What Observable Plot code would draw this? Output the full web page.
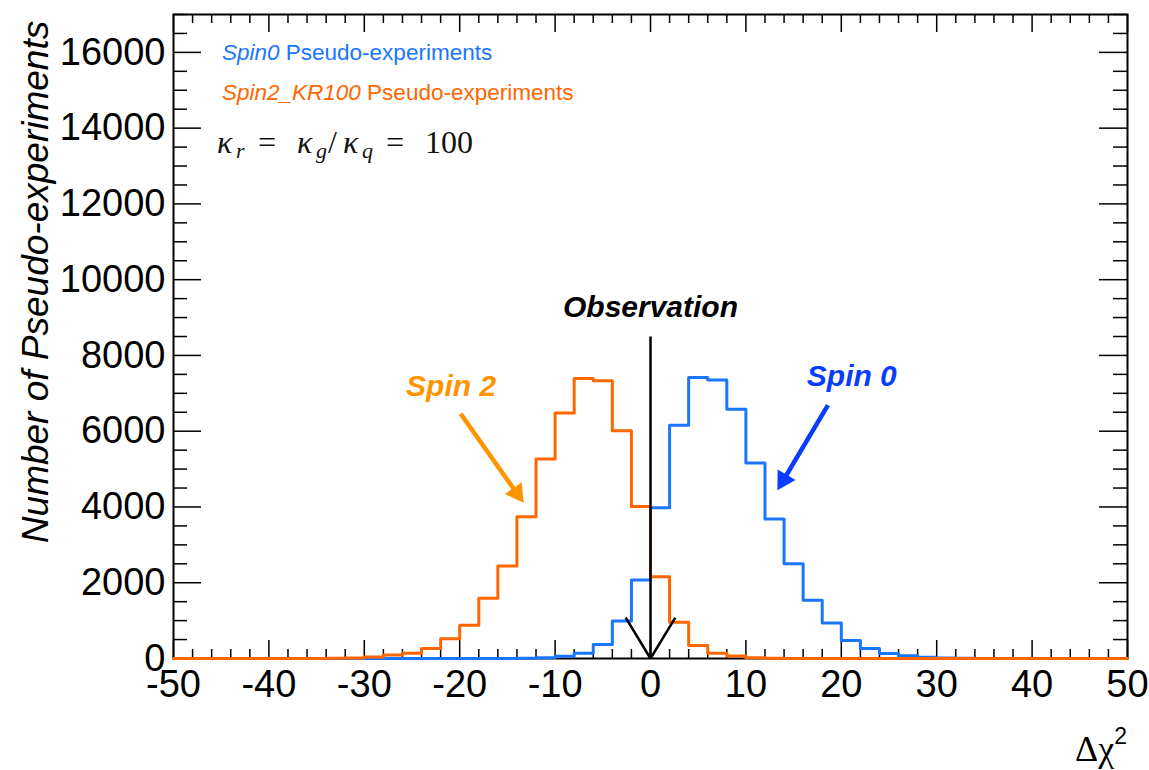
<!DOCTYPE html>
<html>
<head>
<meta charset="utf-8">
<script src="https://cdn.jsdelivr.net/npm/d3@7"></script>
<script src="https://cdn.jsdelivr.net/npm/@observablehq/plot@0.6"></script>
<style>
  html, body { margin: 0; padding: 0; background: #fff; }
  #chart svg { display: block; }
</style>
</head>
<body>
<div id="chart"></div>
<script>
// Δχ² histograms of pseudo-experiments, 2-unit bins from -50 to 50 (left edges)
const binLeftEdges = d3.range(-50, 50, 2);

// Spin 0 pseudo-experiment counts per bin
const spin0Counts = [
  0, 0, 0, 0, 0, 0, 0, 0, 0, 0,          // -50 .. -32
  0, 0, 0, 0, 0, 0, 0, 2, 6, 20,         // -30 .. -12
  60, 140, 370, 990, 2070, 3980, 6160, 7420, 7350, 6580, // -10 .. 8
  5160, 3680, 2500, 1540, 940, 475, 265, 130, 70, 30,    // 10 .. 28
  14, 6, 2, 0, 0, 0, 0, 0, 0, 0          // 30 .. 48
];

// Spin 2 (κr = 100) pseudo-experiment counts per bin
const spin2Counts = [
  0, 0, 0, 0, 0, 0, 0, 2, 6, 15,         // -50 .. -32
  40, 90, 140, 265, 520, 875, 1590, 2440, 3745, 5265,    // -30 .. -12
  6480, 7390, 7335, 6010, 4010, 2160, 960, 345, 140, 65, // -10 .. 8
  20, 6, 2, 0, 0, 0, 0, 0, 0, 0,         // 10 .. 28
  0, 0, 0, 0, 0, 0, 0, 0, 0, 0           // 30 .. 48
];

// Axis ticks
const xMajor = [-50, -40, -30, -20, -10, 0, 10, 20, 30, 40, 50];
const xMinor = d3.range(-50, 51, 2).filter(v => v % 10 !== 0);
const yMajor = [0, 2000, 4000, 6000, 8000, 10000, 12000, 14000, 16000];
const yMinor = d3.range(0, 17001, 500).filter(v => v % 2000 !== 0);

// Legend entries and annotations
const legendNames = ["Spin0", "Spin2_KR100"];
const legendSuffix = " Pseudo-experiments";
const observationX = 0;
const observationTop = 8500;
const observationLabel = "Observation";
const observationLabelY = 9260;
const observationWing = {dx: 2.6, dy: 1080};
const spinLabels = [
  {label: "Spin 2", x: -20.9, y: 7190, color: "#ff9400"},
  {label: "Spin 0", x: 21.1, y: 7450, color: "#0a3cff"}
];
const spinArrows = [
  {x1: -19.9, y1: 6460, x2: -13.3, y2: 4110, color: "#ff9400"},
  {x1: 18.6, y1: 6690, x2: 13.3, y2: 4440, color: "#0a3cff"}
];

const colorSpin0 = "#1a75ff";
const colorSpin2 = "#ff6600";

// Layout
const W = 1149, H = 770;
const mL = 173, mR = 22, mT = 14, mB = 112;
const plotW = W - mL - mR, plotH = H - mT - mB;
const kx = plotW / 100, ky = plotH / 17000;

// Step outline of a histogram: one point per left edge plus the closing edge
function stepPoints(counts) {
  const pts = binLeftEdges.map((e, i) => ({x: e, y: counts[i]}));
  pts.push({x: 50, y: counts[counts.length - 1]});
  return pts;
}

// Filled arrowheads: triangle centred back from the tip, rotated along the shaft
const headBack = 12;
const arrows = spinArrows.map(a => {
  const dxp = (a.x2 - a.x1) * kx, dyp = -(a.y2 - a.y1) * ky;
  const len = Math.hypot(dxp, dyp);
  const ux = dxp / len, uy = dyp / len;
  return {
    ...a,
    hx: a.x2 - headBack * ux / kx,
    hy: a.y2 + headBack * uy / ky,
    angle: Math.atan2(ux, -uy) * 180 / Math.PI
  };
});

const obsLines = [
  {x1: observationX, y1: observationTop, x2: observationX, y2: 0},
  {x1: observationX - observationWing.dx, y1: observationWing.dy, x2: observationX, y2: 0},
  {x1: observationX + observationWing.dx, y1: observationWing.dy, x2: observationX, y2: 0}
];

const tickStyle = {stroke: "black", strokeWidth: 1.5};

const plot = Plot.plot({
  width: W,
  height: H,
  marginLeft: mL,
  marginRight: mR,
  marginTop: mT,
  marginBottom: mB,
  style: {fontFamily: "Liberation Sans", background: "white", overflow: "visible"},
  x: {domain: [-50, 50]},
  y: {domain: [0, 17000]},
  marks: [
    Plot.frame({stroke: "black", strokeWidth: 2}),
    // inward ticks on all four sides
    Plot.tickX(xMinor, {x: d => d, insetTop: plotH - 9, ...tickStyle}),
    Plot.tickX(xMajor, {x: d => d, insetTop: plotH - 18, ...tickStyle}),
    Plot.tickX(xMinor, {x: d => d, insetBottom: plotH - 9, ...tickStyle}),
    Plot.tickX(xMajor, {x: d => d, insetBottom: plotH - 18, ...tickStyle}),
    Plot.tickY(yMinor, {y: d => d, insetRight: plotW - 14, ...tickStyle}),
    Plot.tickY(yMajor, {y: d => d, insetRight: plotW - 28, ...tickStyle}),
    Plot.tickY(yMinor, {y: d => d, insetLeft: plotW - 14, ...tickStyle}),
    Plot.tickY(yMajor, {y: d => d, insetLeft: plotW - 28, ...tickStyle}),
    Plot.axisX({ticks: xMajor, tickSize: 0, tickPadding: 12, fontSize: 38, label: null, tickFormat: d => String(d)}),
    Plot.axisY({ticks: yMajor, tickSize: 0, tickPadding: 8, fontSize: 38, label: null, tickFormat: d => String(d)}),
    // histograms
    Plot.line(stepPoints(spin0Counts), {x: "x", y: "y", curve: "step-after", stroke: colorSpin0, strokeWidth: 3}),
    Plot.line(stepPoints(spin2Counts), {x: "x", y: "y", curve: "step-after", stroke: colorSpin2, strokeWidth: 3}),
    // observed value
    Plot.link(obsLines, {x1: "x1", y1: "y1", x2: "x2", y2: "y2", stroke: "black", strokeWidth: 2.5}),
    Plot.text([{x: observationX, y: observationLabelY, label: observationLabel}], {
      x: "x", y: "y", text: "label", fontSize: 30, fontWeight: "bold", fontStyle: "italic", fill: "black"
    }),
    // spin labels with arrows
    Plot.text(spinLabels, {
      x: "x", y: "y", text: "label", fill: d => d.color, fontSize: 30, fontWeight: "bold", fontStyle: "italic"
    }),
    Plot.link(arrows, {x1: "x1", y1: "y1", x2: "hx", y2: "hy", stroke: d => d.color, strokeWidth: 4.5}),
    Plot.dot(arrows, {x: "hx", y: "hy", symbol: "triangle", r: 7.7, fill: d => d.color, rotate: "angle"})
  ]
});

const svg = d3.select(plot);

// legend
const legendColors = [colorSpin0, colorSpin2];
const legend = svg.append("g")
  .attr("font-family", "Liberation Sans")
  .attr("font-size", 22.5)
  .attr("text-anchor", "start");
legendNames.forEach((name, i) => {
  const t = legend.append("text").attr("x", 222).attr("y", 60 + i * 40).attr("fill", legendColors[i]);
  t.append("tspan").attr("font-style", "italic").text(name);
  t.append("tspan").text(legendSuffix);
});

// coupling formula κr = κg/κq = 100
const formula = svg.append("text")
  .attr("font-family", "Liberation Serif")
  .attr("font-size", 32)
  .attr("text-anchor", "start")
  .attr("y", 153)
  .attr("fill", "#111");
const fx = 217;
const pieces = [
  {t: "κ", dx: 0, italic: true},
  {t: "r", dx: 19, italic: true, sub: true},
  {t: "=", dx: 41},
  {t: "κ", dx: 80, italic: true},
  {t: "g", dx: 99, italic: true, sub: true},
  {t: "/", dx: 111},
  {t: "κ", dx: 126, italic: true},
  {t: "q", dx: 145, italic: true, sub: true},
  {t: "=", dx: 169},
  {t: "100", dx: 208}
];
pieces.forEach(p => {
  formula.append("tspan")
    .attr("x", fx + p.dx)
    .attr("y", p.sub ? 158 : 153)
    .attr("font-size", p.sub ? 22 : 32)
    .attr("font-style", p.italic ? "italic" : "normal")
    .text(p.t);
});

// axis titles
const xTitle = svg.append("text")
  .attr("x", 1127).attr("y", 761)
  .attr("text-anchor", "end")
  .attr("fill", "black");
xTitle.append("tspan").attr("font-family", "Liberation Serif").attr("font-size", 36).text("Δχ");
xTitle.append("tspan").attr("font-family", "Liberation Sans").attr("font-size", 23).attr("dy", -17).text("2");

svg.append("text")
  .attr("transform", "translate(48,282) rotate(-90)")
  .attr("text-anchor", "middle")
  .attr("font-family", "Liberation Sans")
  .attr("font-style", "italic")
  .attr("font-size", 37)
  .attr("fill", "black")
  .text("Number of Pseudo-experiments");

document.getElementById("chart").appendChild(plot);
</script>
</body>
</html>
